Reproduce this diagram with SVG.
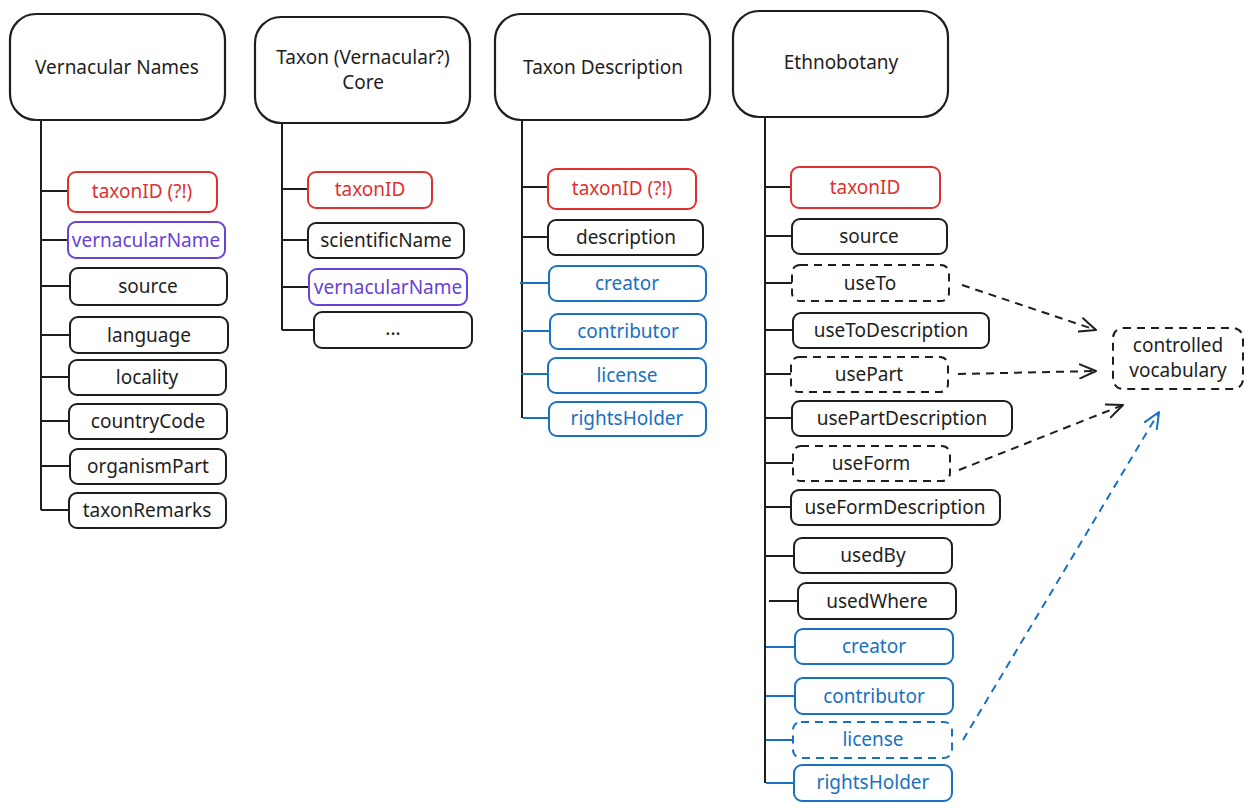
<svg xmlns="http://www.w3.org/2000/svg" width="1252" height="810" viewBox="0 0 1252 810">
  <style>
    text { font-family: "Noto Sans", "DejaVu Sans", sans-serif; font-size: 19px; text-anchor: middle; dominant-baseline: central; fill: #1e1e1e; }
    .hdr rect { fill: #ffffff; stroke: #1e1e1e; stroke-width: 2.2; }
    .fld rect { fill: #ffffff; stroke: #1e1e1e; stroke-width: 2; }
    .red rect { stroke: #e03131; }
    .red text { fill: #e03131; }
    .purple rect { stroke: #6741d9; }
    .purple text { fill: #6741d9; }
    .blue rect { stroke: #1971c2; }
    .blue text { fill: #1971c2; }
    .dash rect { stroke-dasharray: 8 6; }
    .trunk { stroke: #1e1e1e; stroke-width: 2; fill: none; }
    .br { stroke: #1e1e1e; stroke-width: 2; fill: none; }
    .br.b { stroke: #1971c2; }
    .arr { stroke: #1e1e1e; stroke-width: 2; fill: none; stroke-dasharray: 8 6; }
    .arr.b { stroke: #1971c2; }
  </style>
  <defs>
    <marker id="head" viewBox="0 0 18 16" refX="17" refY="8" markerWidth="18" markerHeight="16" markerUnits="userSpaceOnUse" orient="auto">
      <path d="M1,1 L17,8 L1,15" fill="none" stroke="#1e1e1e" stroke-width="2" stroke-linecap="round" stroke-linejoin="round"/>
    </marker>
    <marker id="headBlue" viewBox="0 0 18 16" refX="17" refY="8" markerWidth="18" markerHeight="16" markerUnits="userSpaceOnUse" orient="auto">
      <path d="M1,1 L17,8 L1,15" fill="none" stroke="#1971c2" stroke-width="2" stroke-linecap="round" stroke-linejoin="round"/>
    </marker>
  </defs>

  <rect width="1252" height="810" fill="#ffffff"/>

  <!-- tree lines and arrows -->
  <g id="connectors">
    <!-- Vernacular Names -->
    <path class="trunk" d="M41,120 V510"/>
    <path class="br" d="M41,191 H68 M41,240 H68 M41,286 H70 M41,335 H70 M41,377 H69 M41,421 H69 M41,466 H70 M41,510 H69"/>
    <!-- Taxon core -->
    <path class="trunk" d="M282,123 V330"/>
    <path class="br" d="M282,189 H308 M282,240 H308 M282,287 H309 M282,330 H314"/>
    <!-- Taxon Description -->
    <path class="trunk" d="M522,120 V418"/>
    <path class="br" d="M522,187 H548 M522,237 H548"/>
    <path class="br b" d="M520,283 H549 M521,331 H550 M521,374 H548 M523,418 H549"/>
    <!-- Ethnobotany -->
    <path class="trunk" d="M765,117 V783"/>
    <path class="br" d="M765,187 H791 M765,236 H792 M765,283 H792 M765,330 H793 M765,374 H791 M765,418 H792 M765,463 H793 M765,507 H791 M766,556 H794 M769,601 H798"/>
    <path class="br b" d="M766,647 H795 M766,696 H795 M766,740 H793 M766,783 H794"/>
    <!-- links to controlled vocabulary -->
    <path class="arr" d="M962,285 L1096,330" marker-end="url(#head)"/>
    <path class="arr" d="M958,374 L1096,371" marker-end="url(#head)"/>
    <path class="arr" d="M959,470 L1123,405" marker-end="url(#head)"/>
    <path class="arr b" d="M963,740 L1159,412" marker-end="url(#headBlue)"/>
  </g>

  <!-- Vernacular Names -->
  <g id="vernacular-names" class="hdr"><rect x="10" y="14" width="215" height="106" rx="26"/><text x="117" y="67">Vernacular Names</text></g>
  <g id="vn-taxonID" class="fld red"><rect x="68" y="172" width="149" height="40" rx="8"/><text x="142" y="191">taxonID (?!)</text></g>
  <g id="vn-vernacularName" class="fld purple"><rect x="68" y="222" width="157" height="36" rx="8"/><text x="146" y="240">vernacularName</text></g>
  <g id="vn-source" class="fld"><rect x="70" y="268" width="157" height="37" rx="8"/><text x="148" y="286">source</text></g>
  <g id="vn-language" class="fld"><rect x="70" y="317" width="158" height="36" rx="8"/><text x="149" y="335">language</text></g>
  <g id="vn-locality" class="fld"><rect x="69" y="360" width="157" height="35" rx="8"/><text x="147" y="377">locality</text></g>
  <g id="vn-countryCode" class="fld"><rect x="69" y="404" width="158" height="35" rx="8"/><text x="148" y="421">countryCode</text></g>
  <g id="vn-organismPart" class="fld"><rect x="70" y="449" width="156" height="35" rx="8"/><text x="148" y="466">organismPart</text></g>
  <g id="vn-taxonRemarks" class="fld"><rect x="69" y="493" width="157" height="35" rx="8"/><text x="147" y="510">taxonRemarks</text></g>

  <!-- Taxon core -->
  <g id="taxon-core" class="hdr"><rect x="255" y="17" width="215" height="106" rx="26"/><text x="363" y="57">Taxon (Vernacular?)</text><text x="363" y="82">Core</text></g>
  <g id="tc-taxonID" class="fld red"><rect x="308" y="172" width="124" height="36" rx="8"/><text x="370" y="189">taxonID</text></g>
  <g id="tc-scientificName" class="fld"><rect x="308" y="223" width="156" height="35" rx="8"/><text x="386" y="240">scientificName</text></g>
  <g id="tc-vernacularName" class="fld purple"><rect x="309" y="269" width="158" height="36" rx="8"/><text x="388" y="287">vernacularName</text></g>
  <g id="tc-more" class="fld"><rect x="314" y="312" width="158" height="36" rx="8"/><text x="393" y="328">...</text></g>

  <!-- Taxon Description -->
  <g id="taxon-description" class="hdr"><rect x="495" y="14" width="215" height="106" rx="26"/><text x="603" y="67">Taxon Description</text></g>
  <g id="td-taxonID" class="fld red"><rect x="548" y="169" width="148" height="40" rx="8"/><text x="622" y="188">taxonID (?!)</text></g>
  <g id="td-description" class="fld"><rect x="548" y="220" width="155" height="35" rx="8"/><text x="626" y="237">description</text></g>
  <g id="td-creator" class="fld blue"><rect x="549" y="266" width="157" height="35" rx="8"/><text x="627" y="283">creator</text></g>
  <g id="td-contributor" class="fld blue"><rect x="550" y="314" width="156" height="35" rx="8"/><text x="628" y="331">contributor</text></g>
  <g id="td-license" class="fld blue"><rect x="548" y="358" width="158" height="35" rx="8"/><text x="627" y="375">license</text></g>
  <g id="td-rightsHolder" class="fld blue"><rect x="549" y="402" width="157" height="34" rx="8"/><text x="627" y="418">rightsHolder</text></g>

  <!-- Ethnobotany -->
  <g id="ethnobotany" class="hdr"><rect x="733" y="11" width="215" height="106" rx="26"/><text x="841" y="62">Ethnobotany</text></g>
  <g id="eb-taxonID" class="fld red"><rect x="791" y="167" width="149" height="41" rx="8"/><text x="865" y="187">taxonID</text></g>
  <g id="eb-source" class="fld"><rect x="792" y="219" width="155" height="35" rx="8"/><text x="869" y="236">source</text></g>
  <g id="eb-useTo" class="fld dash"><rect x="792" y="265" width="157" height="36" rx="8"/><text x="870" y="283">useTo</text></g>
  <g id="eb-useToDescription" class="fld"><rect x="793" y="313" width="196" height="35" rx="8"/><text x="891" y="330">useToDescription</text></g>
  <g id="eb-usePart" class="fld dash"><rect x="791" y="357" width="157" height="35" rx="8"/><text x="869" y="374">usePart</text></g>
  <g id="eb-usePartDescription" class="fld"><rect x="792" y="401" width="220" height="35" rx="8"/><text x="902" y="418">usePartDescription</text></g>
  <g id="eb-useForm" class="fld dash"><rect x="793" y="446" width="157" height="35" rx="8"/><text x="871" y="463">useForm</text></g>
  <g id="eb-useFormDescription" class="fld"><rect x="791" y="490" width="209" height="35" rx="8"/><text x="895" y="507">useFormDescription</text></g>
  <g id="eb-usedBy" class="fld"><rect x="794" y="538" width="158" height="35" rx="8"/><text x="873" y="555">usedBy</text></g>
  <g id="eb-usedWhere" class="fld"><rect x="798" y="583" width="158" height="36" rx="8"/><text x="877" y="601">usedWhere</text></g>
  <g id="eb-creator" class="fld blue"><rect x="795" y="629" width="158" height="35" rx="8"/><text x="874" y="646">creator</text></g>
  <g id="eb-contributor" class="fld blue"><rect x="795" y="678" width="158" height="36" rx="8"/><text x="874" y="696">contributor</text></g>
  <g id="eb-license" class="fld blue dash"><rect x="793" y="722" width="159" height="36" rx="8"/><text x="873" y="739">license</text></g>
  <g id="eb-rightsHolder" class="fld blue"><rect x="794" y="765" width="158" height="36" rx="8"/><text x="873" y="782">rightsHolder</text></g>

  <!-- shared vocabulary -->
  <g id="controlled-vocabulary" class="fld dash"><rect x="1113" y="328" width="130" height="61" rx="10"/><text x="1178" y="345">controlled</text><text x="1178" y="370">vocabulary</text></g>
</svg>
